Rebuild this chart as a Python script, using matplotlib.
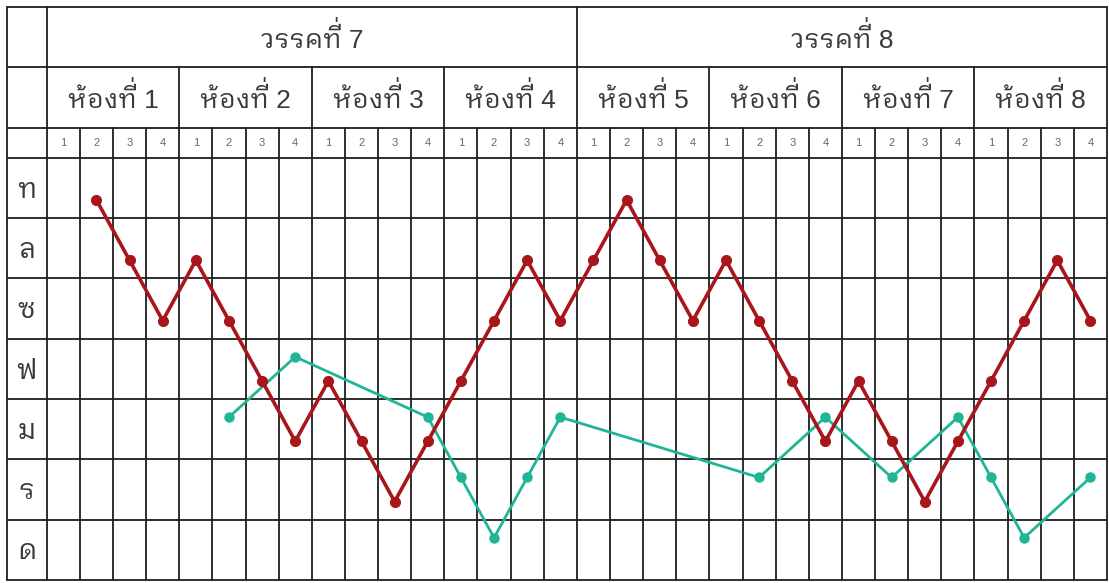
import matplotlib
matplotlib.use('Agg')
import matplotlib.pyplot as plt
from matplotlib import font_manager
from matplotlib.transforms import IdentityTransform
from fontTools.ttLib import TTFont

# note names, bottom row first
notes = ['ด', 'ร', 'ม', 'ฟ', 'ซ', 'ล', 'ท']
phrases = ['วรรคที่ 7', 'วรรคที่ 8']
bars = ['ห้องที่ %d' % i for i in range(1, 9)]
beat_labels = ['1', '2', '3', '4']

# red melody: beat position (1..32) and note
red_pos = list(range(2, 33))
red_notes = ['ท', 'ล', 'ซ', 'ล', 'ซ', 'ฟ', 'ม', 'ฟ', 'ม', 'ร', 'ม', 'ฟ', 'ซ', 'ล', 'ซ',
             'ล', 'ท', 'ล', 'ซ', 'ล', 'ซ', 'ฟ', 'ม', 'ฟ', 'ม', 'ร', 'ม', 'ฟ', 'ซ', 'ล', 'ซ']

# green melody
green_pos = [6, 8, 12, 13, 14, 15, 16, 22, 24, 26, 28, 29, 30, 32]
green_notes = ['ม', 'ฟ', 'ม', 'ร', 'ด', 'ร', 'ม', 'ร', 'ม', 'ร', 'ม', 'ร', 'ด', 'ร']


def find_thai_font():
    found = []
    for f in font_manager.fontManager.ttflist:
        try:
            tt = TTFont(f.fname, fontNumber=0, lazy=True)
            cmap = tt.getBestCmap()
        except Exception:
            continue
        if cmap and 0x0E17 in cmap and 0x0E49 in cmap:
            found.append(f.name)
    for pref in ['Looped', 'Thai', 'Tahoma', 'Sarabun']:
        for n in found:
            if pref in n:
                return n
    return found[0] if found else 'DejaVu Sans'


thai = find_thai_font()
plt.rcParams['font.family'] = [thai, 'DejaVu Sans']
head_family = ['Liberation Sans', thai]
txt_color = '#3a3a3a'

W, H = 1109, 583
fig = plt.figure(figsize=(W / 100, H / 100), dpi=100)
ax = fig.add_axes([7 / W, 3 / H, 1100 / W, 573 / H])
ax.set_xlim(-1.2, 32)
ax.set_ylim(0, 9.5)
ax.axis('off')

lc = '#1e1e1e'
lw = 1.3
nrows = len(notes)
# horizontal lines
for y in list(range(nrows + 1)) + [7.5, 8.5, 9.5]:
    ax.plot([-1.2, 32], [y, y], color=lc, lw=lw, clip_on=False, solid_capstyle='butt')
# vertical lines
ax.plot([-1.2, -1.2], [0, 9.5], color=lc, lw=lw, clip_on=False)
for b in range(33):
    top = 7.5
    if b % 4 == 0:
        top = 8.5
    if b % 16 == 0:
        top = 9.5
    ax.plot([b, b], [0, top], color=lc, lw=lw, clip_on=False)

renderer = fig.canvas.get_renderer()
MARK = '\u0e48'


def header(x, y, s, size, lift=8):
    # matplotlib has no Thai shaping, so the tone mark would sit on the
    # upper vowel; draw the string, then a lifted copy of the mark
    t = ax.text(x, y, s, ha='center', va='baseline', fontsize=size,
                color=txt_color, family=head_family)
    k = s.find(MARK)
    if k < 0:
        return
    bb = t.get_window_extent(renderer)
    probe = ax.text(0, 0, s[:k - 1], fontsize=size, family=head_family)
    pre_w = probe.get_window_extent(renderer).width
    probe.remove()
    bx, by = ax.transData.transform((x, y))
    ax.text(bb.x0 + pre_w - 2.5, by + lift, ' ' + MARK, ha='right', va='baseline',
            fontsize=size, color=txt_color, family=head_family,
            transform=IdentityTransform())


for i, p in enumerate(phrases):
    header(i * 16 + 8, 8.82, p, 19)
for i, b in enumerate(bars):
    header(i * 4 + 2, 7.82, b, 19)
for k in range(32):
    ax.text(k + 0.5, 7.25, beat_labels[k % 4], ha='center', va='center',
            fontsize=8, color='#666666', family='Liberation Sans')
for i, n in enumerate(notes):
    ax.text(-0.6, i + 0.34, n, ha='center', va='baseline', fontsize=20, color=txt_color)

# melodies
rx = [p - 0.5 for p in red_pos]
ry = [notes.index(n) + 0.3 for n in red_notes]
gx = [p - 0.5 for p in green_pos]
gy = [notes.index(n) + 0.7 for n in green_notes]
ax.plot(gx, gy, color='#1fb596', lw=2.0, marker='o', markersize=6.5, zorder=3)
ax.plot(rx, ry, color='#a8161b', lw=2.6, marker='o', markersize=7, zorder=4)

fig.savefig('out.png', dpi=100, facecolor='white')
